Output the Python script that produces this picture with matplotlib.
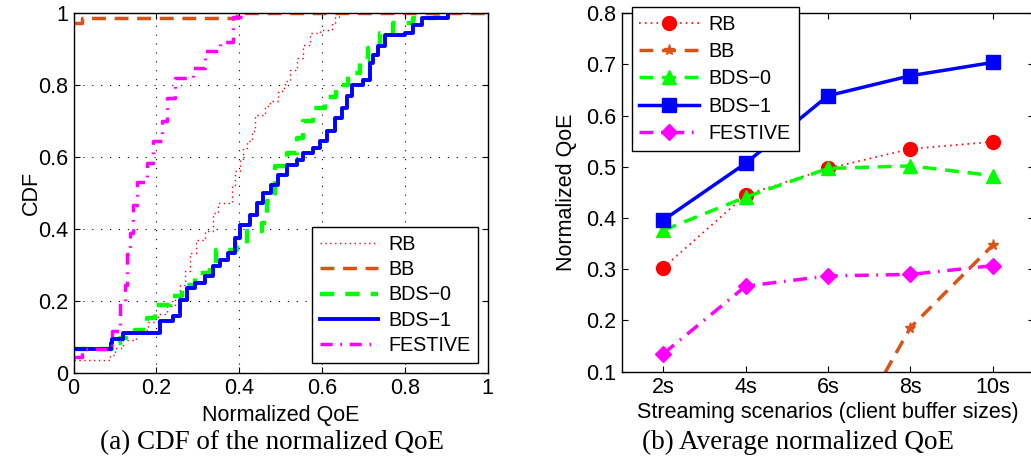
import matplotlib
matplotlib.use("Agg")
import matplotlib.pyplot as plt
import numpy as np

# ---------------- data: (a) CDF traced step points ----------------
rb_x = [0.0, 0.088, 0.10, 0.12, 0.15, 0.18, 0.205, 0.225, 0.245, 0.257, 0.269, 0.281, 0.296, 0.317,
        0.338, 0.35, 0.382, 0.39, 0.402, 0.41, 0.418, 0.43, 0.438, 0.462, 0.474, 0.494, 0.503, 0.51,
        0.523, 0.539, 0.555, 0.571, 0.595, 0.623, 0.631, 0.64]
rb_y = [0.036, 0.05, 0.069, 0.09, 0.12, 0.14, 0.163, 0.185, 0.213, 0.245, 0.282, 0.333, 0.37, 0.395,
        0.444, 0.472, 0.523, 0.56, 0.593, 0.625, 0.644, 0.672, 0.718, 0.741, 0.755, 0.78, 0.792, 0.812,
        0.841, 0.876, 0.911, 0.945, 0.953, 0.973, 0.99, 1.0]

bb_x = [0.0, 0.02, 0.394, 1.0]
bb_y = [0.972, 0.988, 1.0, 1.0]

bds0_x = [0.0, 0.092, 0.112, 0.148, 0.177, 0.197, 0.233, 0.261, 0.293, 0.33, 0.345, 0.394, 0.418,
          0.454, 0.466, 0.486, 0.515, 0.539, 0.555, 0.579, 0.607, 0.635, 0.663, 0.692, 0.712, 0.74,
          0.772, 0.82, 0.873, 0.90]
bds0_y = [0.066, 0.083, 0.097, 0.12, 0.152, 0.189, 0.213, 0.245, 0.277, 0.30, 0.342, 0.356, 0.395,
          0.416, 0.477, 0.574, 0.611, 0.653, 0.70, 0.737, 0.766, 0.80, 0.834, 0.871, 0.903, 0.945,
          0.973, 0.987, 0.989, 1.0]

bds1_x = [0.0, 0.09, 0.092, 0.12, 0.209, 0.241, 0.257, 0.273, 0.293, 0.317, 0.338, 0.354, 0.374,
          0.39, 0.402, 0.426, 0.442, 0.458, 0.478, 0.494, 0.515, 0.539, 0.555, 0.579, 0.595, 0.611,
          0.631, 0.648, 0.66, 0.672, 0.70, 0.716, 0.724, 0.736, 0.752, 0.80, 0.82, 0.841, 0.905]
bds1_y = [0.065, 0.083, 0.095, 0.11, 0.143, 0.157, 0.203, 0.236, 0.25, 0.268, 0.296, 0.314, 0.333,
          0.375, 0.412, 0.44, 0.472, 0.50, 0.523, 0.551, 0.579, 0.593, 0.611, 0.625, 0.644, 0.672,
          0.709, 0.737, 0.769, 0.801, 0.815, 0.862, 0.885, 0.908, 0.94, 0.945, 0.968, 0.987, 1.0]

fest_x = [0.0, 0.02, 0.092, 0.112, 0.124, 0.128, 0.136, 0.144, 0.153, 0.177, 0.193, 0.213, 0.225,
          0.245, 0.289, 0.317, 0.354, 0.386, 0.41]
fest_y = [0.045, 0.066, 0.115, 0.20, 0.245, 0.33, 0.39, 0.467, 0.532, 0.583, 0.644, 0.70, 0.764,
          0.82, 0.848, 0.894, 0.92, 0.99, 1.0]

# ---------------- data: (b) average normalized QoE ----------------
scenarios = ["2s", "4s", "6s", "8s", "10s"]
rb_avg = [0.303, 0.445, 0.497, 0.535, 0.549]
bb_avg = [-0.50, -0.30, -0.10, 0.186, 0.347]
bds0_avg = [0.376, 0.441, 0.497, 0.502, 0.483]
bds1_avg = [0.396, 0.507, 0.639, 0.678, 0.704]
fest_avg = [0.135, 0.267, 0.287, 0.290, 0.307]

C_RB = "#ff0000"
C_BB = "#d95319"
C_G = "#00ff00"
C_B = "#0000ff"
C_M = "#ff00ff"

plt.rcParams["font.family"] = ["Liberation Sans", "DejaVu Sans"]
fig = plt.figure(figsize=(10.31, 4.70), dpi=100)

FS = 15.5
LFS = 14.2
CAP = ["Liberation Serif", "DejaVu Serif"]

# ---------------- (a) ----------------
ax1 = fig.add_axes([0.0713, 0.207, 0.4017, 0.7647])
ax1.step(rb_x, rb_y, where="post", color=C_RB, lw=1.0, ls=(0, (1, 2.5)), label="RB")
ax1.step(bb_x, bb_y, where="post", color=C_BB, lw=2.5, ls=(0, (4, 2.5)), label="BB")
ax1.step(bds0_x, bds0_y, where="post", color=C_G, lw=3.2, ls=(0, (3.2, 2.5)), label="BDS\u22120")
ax1.step(bds1_x, bds1_y, where="post", color=C_B, lw=2.8, label="BDS\u22121")
ax1.step(fest_x, fest_y, where="post", color=C_M, lw=2.5, ls=(0, (3.5, 2.2, 0.5, 2.2)), label="FESTIVE")
ax1.set_xlim(0, 1)
ax1.set_ylim(0, 1)
ax1.set_xticks([0, 0.2, 0.4, 0.6, 0.8, 1])
ax1.set_xticklabels(["0", "0.2", "0.4", "0.6", "0.8", "1"])
ax1.set_yticks([0, 0.2, 0.4, 0.6, 0.8, 1])
ax1.set_yticklabels(["0", "0.2", "0.4", "0.6", "0.8", "1"])
ax1.grid(True, color="black", ls=(0, (1, 7)), lw=0.8)
ax1.tick_params(direction="in", top=True, right=True, labelsize=FS, length=4, pad=4)
ax1.set_xlabel("Normalized QoE", fontsize=FS, labelpad=4)
ax1.set_ylabel("CDF", fontsize=FS)
ax1.yaxis.set_label_coords(-0.077, 0.5)
for s in ax1.spines.values():
    s.set_linewidth(1.0)
leg1 = ax1.legend(loc="lower right", fontsize=LFS, handlelength=2.95,
                  frameon=True, fancybox=False, edgecolor="black", framealpha=1,
                  borderpad=0.4, labelspacing=0.32, handletextpad=0.5, borderaxespad=0)
leg1.get_frame().set_linewidth(1.0)
leg1.set_bbox_to_anchor((0.977, 0.027), transform=ax1.transAxes)

fig.text(0.264, 0.058, "(a) CDF of the normalized QoE", ha="center", va="center",
         fontsize=19.5, family=CAP)

# ---------------- (b) ----------------
ax2 = fig.add_axes([0.6034, 0.2092, 0.3994, 0.7625])
xs = np.arange(1, len(scenarios) + 1)
ax2.plot(xs, rb_avg, color=C_RB, lw=1.2, ls=(0, (1, 2.5)), marker="o", ms=10, label="RB")
ax2.plot(xs, bb_avg, color=C_BB, lw=2.5, ls=(0, (4, 2.5)), marker="*", ms=8, label="BB")
ax2.plot(xs, bds0_avg, color=C_G, lw=2.5, ls=(0, (4, 2.5)), marker="^", ms=10, label="BDS\u22120")
ax2.plot(xs, bds1_avg, color=C_B, lw=2.5, marker="s", ms=10, label="BDS\u22121")
ax2.plot(xs, fest_avg, color=C_M, lw=2.5, ls=(0, (4, 2.2, 0.5, 2.2)), marker="D", ms=8, label="FESTIVE")
ax2.set_xlim(0.5, 5.5)
ax2.set_ylim(0.1, 0.8)
ax2.set_xticks(xs)
ax2.set_xticklabels(scenarios)
ax2.set_yticks([0.1, 0.2, 0.3, 0.4, 0.5, 0.6, 0.7, 0.8])
ax2.set_yticklabels(["0.1", "0.2", "0.3", "0.4", "0.5", "0.6", "0.7", "0.8"])
ax2.tick_params(direction="in", top=True, right=True, labelsize=FS, length=4, pad=4)
ax2.set_xlabel("Streaming scenarios (client buffer sizes)", fontsize=FS, labelpad=3)
ax2.set_ylabel("Normalized QoE", fontsize=FS, labelpad=7)
for s in ax2.spines.values():
    s.set_linewidth(1.0)
leg2 = ax2.legend(loc="upper left", bbox_to_anchor=(0.023, 1.018), fontsize=LFS, handlelength=3.0,
                  frameon=True, fancybox=False, edgecolor="black", framealpha=1,
                  borderpad=0.4, labelspacing=0.42, handletextpad=0.5, borderaxespad=0)
leg2.get_frame().set_linewidth(1.0)

fig.text(0.774, 0.058, "(b) Average normalized QoE", ha="center", va="center",
         fontsize=19.5, family=CAP)

fig.savefig("out.png", dpi=100)
